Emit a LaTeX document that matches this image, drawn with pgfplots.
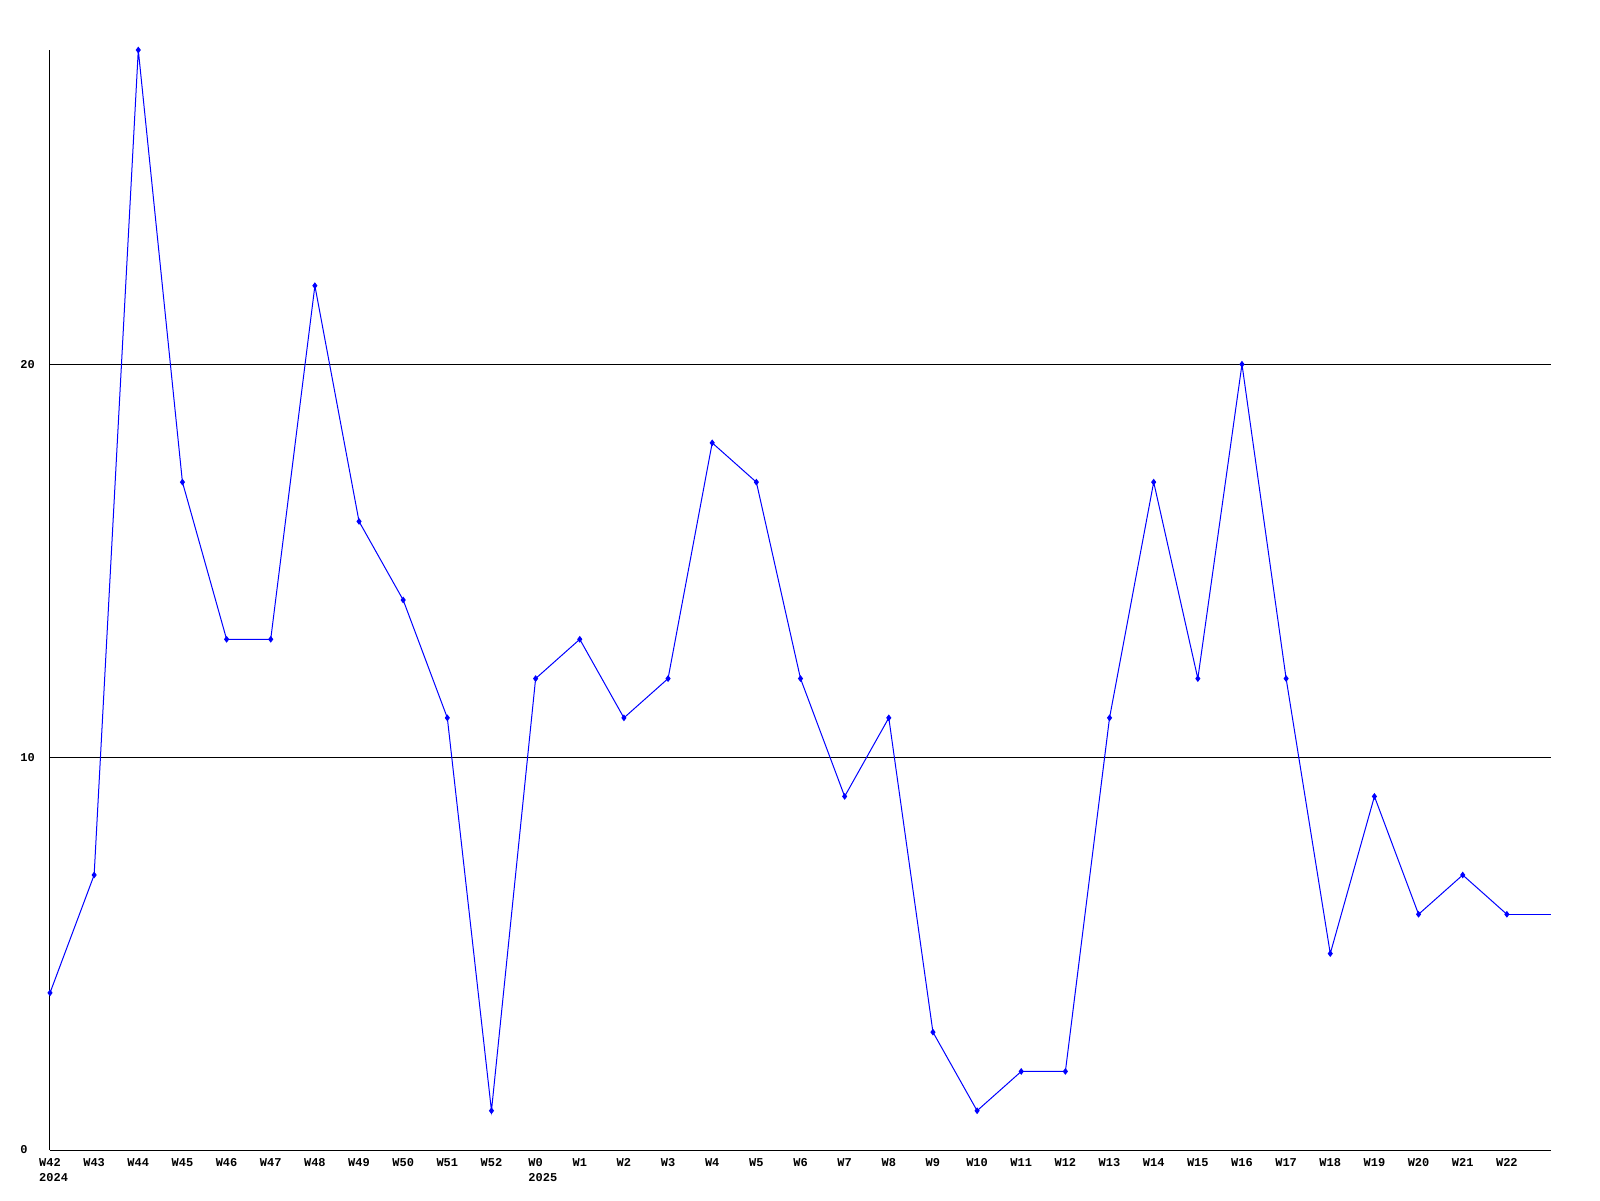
\documentclass[border=0pt]{standalone}
\usepackage{fontspec}
\setmonofont{Liberation Mono}
\usepackage{pgfplots}
\pgfplotsset{compat=1.18}
\begin{document}
\begin{tikzpicture}
\useasboundingbox (-25pt,-25pt) rectangle (775pt,575pt);
\begin{axis}[
  at={(0,0)}, anchor=south west,
  scale only axis,
  width=750.5pt, height=550pt,
  xmin=0, xmax=34, ymin=0, ymax=28,
  axis x line=bottom, axis y line=left,
  axis line style={-, black, line width=0.5pt},
  ytick={0,10,20},
  ymajorgrids, grid style={black, line width=0.5pt},
  major tick length=0pt,
  xtick={0,...,33},
  xticklabels={{W42\\\makebox[0pt][l]{2024}\phantom{W42}},W43,W44,W45,W46,W47,W48,W49,W50,W51,W52,{W0\\\makebox[0pt][l]{2025}\phantom{W0}},W1,W2,W3,W4,W5,W6,W7,W8,W9,W10,W11,W12,W13,W14,W15,W16,W17,W18,W19,W20,W21,W22},
  /pgf/number format/assume math mode=true,
  tick label style={font=\fontsize{6}{7.6}\selectfont\ttfamily\bfseries},
  xticklabel style={align=center, anchor=north, inner sep=0pt, yshift=-4pt},
  yticklabel style={anchor=west, inner sep=0pt, xshift=-15pt},
  clip=false,
]
\addplot[color={rgb,255:red,0;green,0;blue,255}, line width=0.5pt, mark=diamond*, mark size=1.3pt] coordinates {
(0,4) (1,7) (2,28) (3,17) (4,13) (5,13) (6,22) (7,16) (8,14) (9,11) (10,1)
(11,12) (12,13) (13,11) (14,12) (15,18) (16,17) (17,12) (18,9) (19,11) (20,3)
(21,1) (22,2) (23,2) (24,11) (25,17) (26,12) (27,20) (28,12) (29,5) (30,9)
(31,6) (32,7) (33,6)
};
\addplot[color={rgb,255:red,0;green,0;blue,255}, line width=0.5pt, mark=none] coordinates {(33,6) (34,6)};
\end{axis}
\end{tikzpicture}
\end{document}
